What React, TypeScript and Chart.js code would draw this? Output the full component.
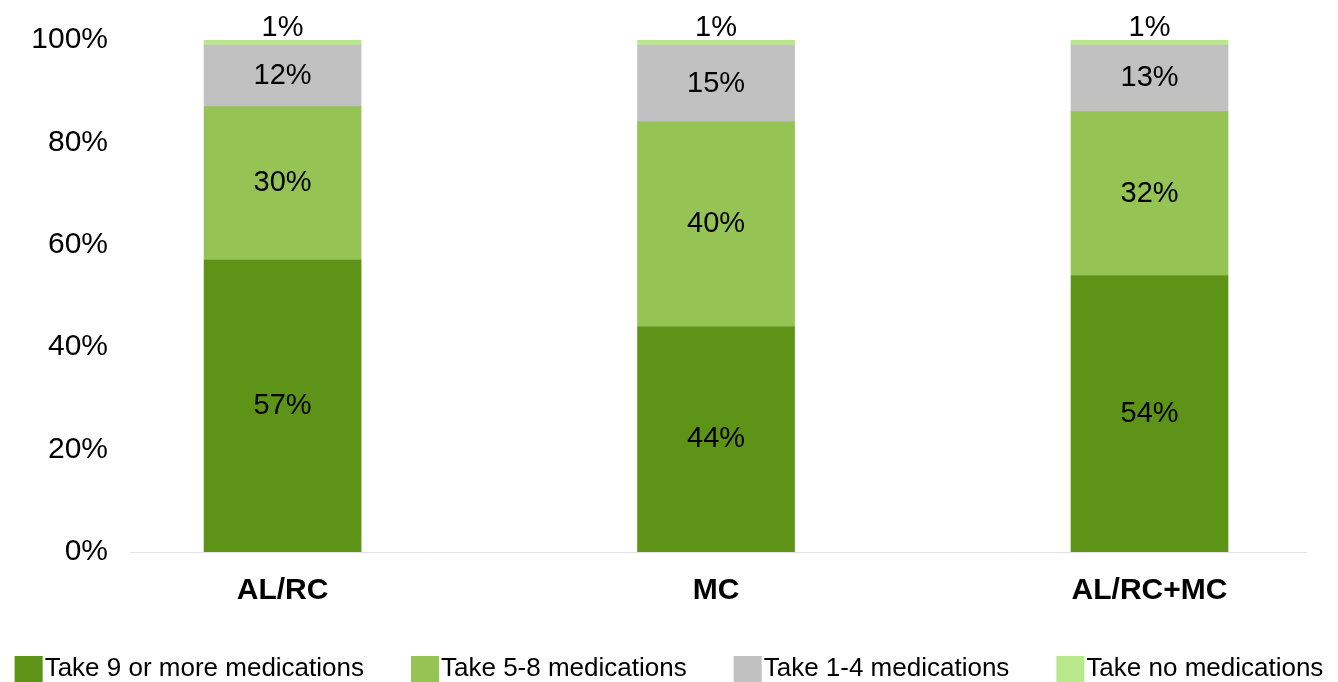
import { useEffect, useRef } from 'react';
import { Chart, registerables } from 'chart.js';

Chart.register(...registerables);

const FONT = '"Liberation Sans", Arial, Helvetica, sans-serif';

// Residence groups along the x axis
const categories = ['AL/RC', 'MC', 'AL/RC+MC'];

// Share of residents (%) in each medication-count band
const nineOrMore = [57, 44, 54];
const fiveToEight = [30, 40, 32];
const oneToFour = [12, 15, 13];
const noMeds = [1, 1, 1];

const seriesNames = [
  'Take 9 or more medications',
  'Take 5-8 medications',
  'Take 1-4 medications',
  'Take no medications',
];
const seriesColors = ['#5D9316', '#95C354', '#C1C1C1', '#B9E78C'];
const seriesValues = [nineOrMore, fiveToEight, oneToFour, noMeds];

const yTickStep = 20;
const yMax = 100;

// Percentage labels drawn in the middle of every stacked segment
const segmentLabels = {
  id: 'segmentLabels',
  afterDatasetsDraw(chart: any) {
    const ctx = chart.ctx;
    ctx.save();
    ctx.font = `29px ${FONT}`;
    ctx.fillStyle = '#000';
    ctx.textAlign = 'center';
    ctx.textBaseline = 'middle';
    chart.data.datasets.forEach((ds: any, di: number) => {
      const meta = chart.getDatasetMeta(di);
      meta.data.forEach((bar: any, i: number) => {
        const { x, y, base } = bar.getProps(['x', 'y', 'base'], true);
        const top = Math.min(y, base);
        const bottom = Math.max(y, base);
        const h = bottom - top;
        const cy = h >= 30 ? (top + bottom) / 2 : top - 12;
        ctx.fillText(`${ds.data[i].y}%`, x, cy);
      });
    });
    ctx.restore();
  },
};

// Single-row legend along the bottom edge
const bottomLegend = {
  id: 'bottomLegend',
  afterDraw(chart: any) {
    const ctx = chart.ctx;
    ctx.save();
    ctx.font = `26px ${FONT}`;
    const boxW = 28;
    const boxH = 26;
    const gap = 2;
    const spacing = 47;
    const items = chart.data.datasets.map((ds: any) => ({
      label: ds.label as string,
      color: ds.backgroundColor as string,
      w: ctx.measureText(ds.label).width as number,
    }));
    const total =
      items.reduce((s: number, it: any) => s + boxW + gap + it.w, 0) +
      spacing * (items.length - 1);
    let x = (chart.width - total) / 2;
    const cy = chart.height - 13;
    ctx.textAlign = 'left';
    ctx.textBaseline = 'middle';
    items.forEach((it: any) => {
      ctx.fillStyle = it.color;
      ctx.fillRect(x, cy - boxH / 2, boxW, boxH);
      ctx.fillStyle = '#000';
      ctx.fillText(it.label, x + boxW + gap, cy);
      x += boxW + gap + it.w + spacing;
    });
    ctx.restore();
  },
};

export default function App() {
  const canvasRef = useRef<HTMLCanvasElement | null>(null);

  useEffect(() => {
    if (!canvasRef.current) return;
    const chart = new Chart(canvasRef.current, {
      type: 'bar',
      data: {
        datasets: seriesValues.map((vals, si) => ({
          label: seriesNames[si],
          data: vals.map((v, i) => ({ x: i, y: v })),
          backgroundColor: seriesColors[si],
          borderWidth: 0,
          barThickness: 157,
        })),
      },
      options: {
        animation: false,
        responsive: false,
        layout: { padding: { top: 40, right: 32, bottom: 52, left: 0 } },
        plugins: {
          legend: { display: false },
          tooltip: { enabled: false },
        },
        scales: {
          x: {
            type: 'linear',
            stacked: true,
            offset: false,
            min: -0.352,
            max: 2.361,
            grid: { display: false, drawTicks: false },
            border: { display: true, color: '#e3e3e3', width: 1 },
            ticks: {
              stepSize: 1,
              includeBounds: false,
              autoSkip: false,
              maxRotation: 0,
              padding: 21,
              color: '#000',
              font: { size: 30, weight: 'bold', family: FONT },
              callback: (v: any) => categories[v as number] ?? '',
            },
          },
          y: {
            type: 'linear',
            stacked: true,
            min: 0,
            max: yMax,
            grid: { display: false, drawTicks: false },
            border: { display: false },
            afterFit: (axis: any) => {
              axis.width = 130;
            },
            ticks: {
              stepSize: yTickStep,
              padding: 22,
              color: '#000',
              font: { size: 30, family: FONT },
              callback: (v: any) => `${v}%`,
            },
          },
        },
      } as any,
      plugins: [segmentLabels, bottomLegend],
    });
    return () => chart.destroy();
  }, []);

  return (
    <div style={{ position: 'fixed', left: 0, top: 0, width: 1338, height: 682, background: '#fff' }}>
      <canvas ref={canvasRef} width={1338} height={682} style={{ display: 'block' }} />
    </div>
  );
}
